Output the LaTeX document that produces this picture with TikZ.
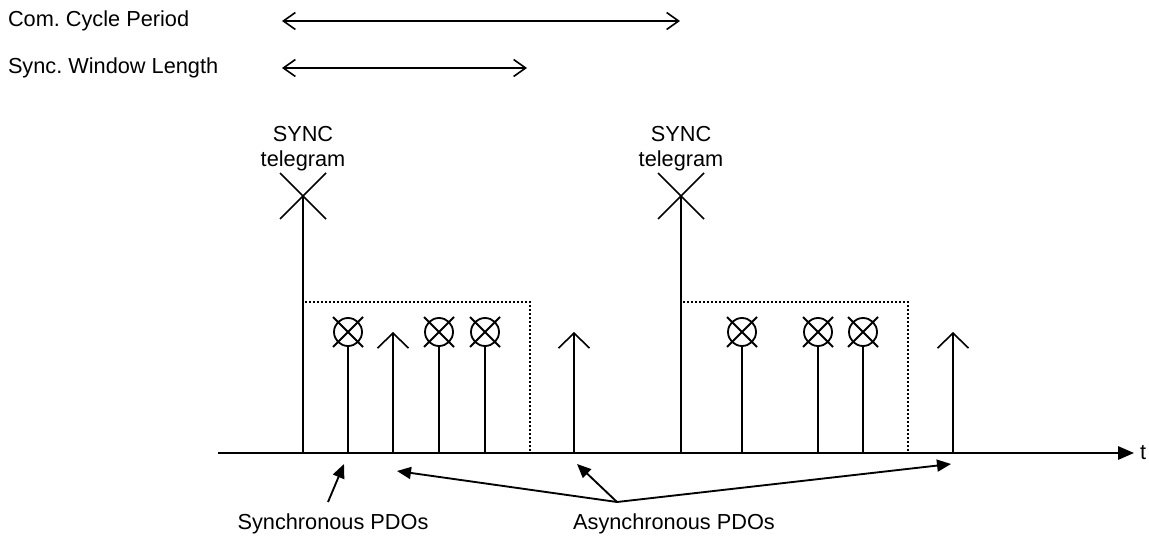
\documentclass[tikz,border=0pt]{standalone}
\usepackage{fontspec}
\setmainfont{Liberation Sans}
\usetikzlibrary{arrows.meta,shapes.misc}
\frenchspacing
\begin{document}
\begin{tikzpicture}[x=0.75pt,y=-0.75pt,
  lbl/.style={font=\fontsize{16.3}{18.75}\selectfont, inner sep=0pt, outer sep=0pt},
  ln/.style={line width=1.45pt, line cap=butt},
  thin/.style={line width=1.2pt},
  syncx/.style={cross out, draw, line width=1.2pt, minimum size=34.5pt, inner sep=0pt, outer sep=0pt},
  pdoc/.style={circle, draw, line width=1.35pt, minimum size=21pt, inner sep=0pt, outer sep=0pt},
  pdox/.style={cross out, draw, line width=1.35pt, minimum size=22.5pt, inner sep=0pt, outer sep=0pt},
  uparrow/.style={ln, -{Straight Barb[length=11.25pt,width=23.25pt,line width=1.2pt]}},
  span/.style={thin, {Straight Barb[length=9pt,width=12.75pt]}-{Straight Barb[length=9pt,width=12.75pt]}},
  window/.style={line width=1.1pt, dash pattern=on 1.5pt off 1.5pt},
  callout/.style={line width=1.4pt, -{Triangle[length=10.5pt,width=9pt]}},
]
\useasboundingbox (0,0) rectangle (1149,538);

% legend
\node[lbl, anchor=west] (lcom) at (8,21) {Com. Cycle Period};
\node[lbl, anchor=west] (lsw) at (8,68) {Sync. Window Length};
\coordinate (com0) at (282,21); \coordinate (com1) at (680,21);
\coordinate (sw0) at (282,68); \coordinate (sw1) at (527,68);
\draw[span] (com0) -- (com1);
\draw[span] (sw0) -- (sw1);

% time axis
\coordinate (ax0) at (218,453);
\coordinate (ax1) at (1134,453);
\draw[line width=1.5pt, -{Triangle[length=12pt,width=10pt]}] (ax0) -- (ax1);
\node[lbl, anchor=west] (t) at (1140,453) {t};

% sync windows (dotted)
\coordinate (w1a) at (303,302); \coordinate (w1b) at (530,453);
\coordinate (w2a) at (681,302); \coordinate (w2b) at (908,453);
\draw[window] (w1a) rectangle (w1b);
\draw[window] (w2a) rectangle (w2b);

% SYNC telegrams
\node[lbl, align=center, anchor=north] (st1) at (303,126.5) {SYNC\\telegram};
\node[lbl, align=center, anchor=north] (st2) at (681,126.5) {SYNC\\telegram};
\node[syncx] (x1) at (303,196) {};
\node[syncx] (x2) at (681,196) {};
\coordinate (s1b) at (303,453); \coordinate (s2b) at (681,453);
\draw[ln] (s1b) -- (x1.center);
\draw[ln] (s2b) -- (x2.center);

% synchronous PDOs (circle with cross)
\foreach \n/\x in {c1/348, c2/439, c3/485, c4/742, c5/818, c6/863}{
  \node[pdoc] (\n) at (\x,332) {};
  \node[pdox] (\n x) at (\x,332) {};
  \coordinate (\n b) at (\x,453);
  \draw[ln] (\n b) -- (\n.south);
}

% asynchronous PDOs (arrows)
\foreach \n/\x in {a1/393, a2/574, a3/953}{
  \coordinate (\n b) at (\x,453);
  \coordinate (\n t) at (\x,332);
  \draw[uparrow] (\n b) -- (\n t);
}

% callouts
\node[lbl] (lsync) at (333,524) {Synchronous PDOs};
\node[lbl] (lasync) at (674,524) {Asynchronous PDOs};
\coordinate (sy0) at (328,502); \coordinate (sy1) at (344,464);
\draw[callout] (sy0) -- (sy1);
\coordinate (as0) at (617,502);
\coordinate (as1) at (397,471);
\coordinate (as2) at (577,464);
\coordinate (as3) at (951,464);
\draw[callout] (as0) -- (as1);
\draw[callout] (as0) -- (as2);
\draw[callout] (as0) -- (as3);
\end{tikzpicture}
\end{document}
